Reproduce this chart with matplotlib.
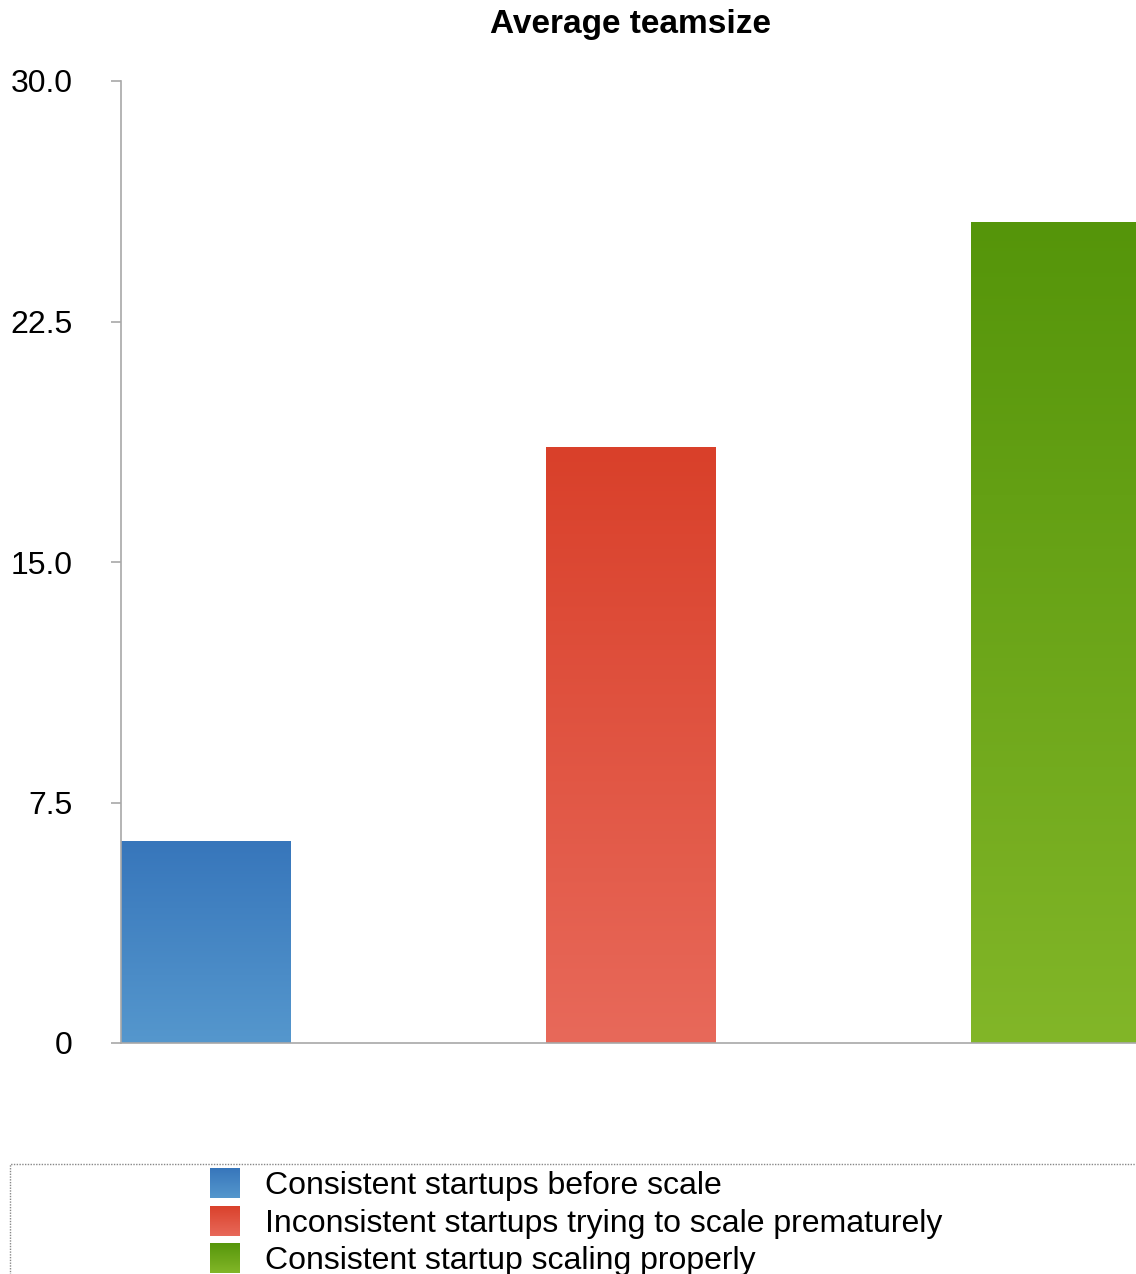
import numpy as np
from matplotlib import pyplot as plt
from matplotlib.patches import Rectangle
from matplotlib.colors import LinearSegmentedColormap

# Data
categories = ["Consistent startups before scale",
              "Inconsistent startups trying to scale prematurely",
              "Consistent startup scaling properly"]
values = [6.3, 18.6, 25.6]
yticks = [0, 7.5, 15.0, 22.5, 30.0]
ytick_labels = ["0", "7.5", "15.0", "22.5", "30.0"]

# top / bottom colours of each bar gradient
top_colors = ["#3776bb", "#d9402a", "#55950a"]
bottom_colors = ["#5597cd", "#e8695a", "#82b628"]

W, H = 1136, 1274
fig = plt.figure(figsize=(W / 100, H / 100), dpi=100)

# axes in pixel coordinates
left, right = 121, 1136
top, bottom = 81, 1043
ax = fig.add_axes([left / W, 1 - bottom / H, (right - left) / W, (bottom - top) / H])

bar_w = 0.4
x = np.arange(len(values))
bars = ax.bar(x, values, width=bar_w, color="none", edgecolor="none", zorder=2)

grad = np.linspace(0, 1, 256).reshape(-1, 1)
for b, c_top, c_bot in zip(bars, top_colors, bottom_colors):
    cmap = LinearSegmentedColormap.from_list("g", [c_bot, c_top])
    bx, by = b.get_x(), b.get_y()
    bw, bh = b.get_width(), b.get_height()
    im = ax.imshow(grad, cmap=cmap, aspect="auto", origin="lower",
                   extent=[bx, bx + bw, by, by + bh], zorder=2)
    im.set_clip_path(b)

ax.set_xlim(-0.2, 2 + (1136 - 1055.5) / 425)
ax.set_ylim(0, 30)
ax.set_yticks(yticks)
ax.set_yticklabels(ytick_labels)
ax.set_xticks([])

for s in ["top", "right"]:
    ax.spines[s].set_visible(False)
for s in ["left", "bottom"]:
    ax.spines[s].set_color("#a8a8a8")
    ax.spines[s].set_linewidth(1.2)
ax.tick_params(axis="y", length=7, width=1.2, color="#a8a8a8",
               labelsize=23, pad=28)
for lab in ax.get_yticklabels():
    lab.set_fontfamily(["Liberation Sans", "DejaVu Sans"])

fig.text(631 / W, 1 - 24 / H, "Average teamsize", ha="center", va="center",
         fontsize=24, fontweight="bold",
         family=["Liberation Sans Narrow", "Liberation Sans", "DejaVu Sans"])

# legend box (dotted, running off the right and bottom edges)
fig.patches.append(Rectangle((10 / W, -0.01), 1.0, (1274 - 1164) / H + 0.01,
                             transform=fig.transFigure, fill=False,
                             edgecolor="#888888", linestyle=(0, (1, 1)),
                             linewidth=1))

row_y = [1183, 1221, 1258]
for name, c_top, c_bot, yc in zip(categories, top_colors, bottom_colors, row_y):
    sw = fig.add_axes([210 / W, 1 - (yc + 15) / H, 30 / W, 30 / H])
    cmap = LinearSegmentedColormap.from_list("g", [c_bot, c_top])
    sw.imshow(grad, cmap=cmap, aspect="auto", origin="lower")
    sw.axis("off")
    fig.text(265 / W, 1 - (yc + 3) / H, name, ha="left", va="center", fontsize=23,
             family=["Liberation Sans", "DejaVu Sans"])

fig.savefig("out.png", dpi=100)
